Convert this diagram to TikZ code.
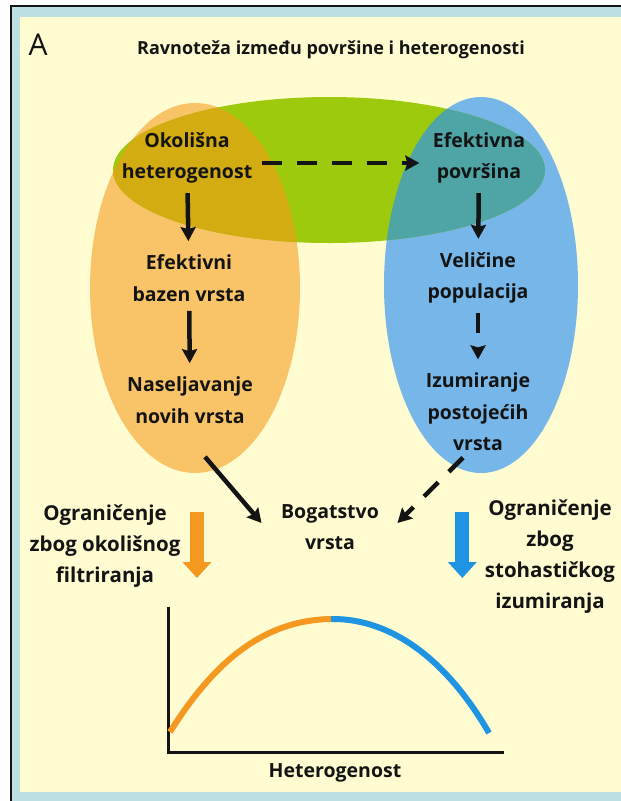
\documentclass[tikz,border=0pt]{standalone}
\usepackage{fontspec}
\setmainfont{Open Sans}
\usetikzlibrary{arrows.meta}
\definecolor{creme}{RGB}{254,252,208}
\definecolor{cadre}{RGB}{188,224,228}
\definecolor{orangeF}{RGB}{249,196,104}
\definecolor{vertF}{RGB}{157,202,13}
\definecolor{orF}{RGB}{211,172,18}
\definecolor{bleuF}{RGB}{118,182,232}
\definecolor{sarcF}{RGB}{79,164,166}
\definecolor{orangeC}{RGB}{244,152,32}
\definecolor{bleuC}{RGB}{30,148,226}
\definecolor{encre}{RGB}{20,20,20}

\begin{document}
\begin{tikzpicture}[x=1pt,y=-1pt,very thick,
    font=\bfseries\fontsize{19.5}{31.5}\selectfont,
    texte/.style={align=center,inner sep=4pt,text=encre},
    cote/.style={texte,font=\bfseries\fontsize{20.5}{31}\selectfont},
    fleche/.style={line width=4.5pt,encre,-{Stealth[length=14pt,width=15pt,inset=2pt]}},
    lien/.style={fleche,shorten <=5pt,shorten >=9pt},
    tiret/.style={dash pattern=on 20pt off 15pt},
    grosse/.style={line width=14pt,-{Triangle[length=16pt,width=28pt]}},
    courbe/.style={line width=6pt}]
  \useasboundingbox (0,0) rectangle (621,801);
  % fond et cadre
  \fill[white] (0,0) rectangle (621,801);
  \fill[cadre] (11,6) rectangle (621,801);
  \draw[line width=1.5pt,encre] (11,801) -- (11,6) -- (621,6);
  \fill[creme] (20,17) rectangle (621,792);
  % les trois ellipses
  \fill[orangeF] (195,288) ellipse (105 and 185);
  \fill[bleuF] (481,285) ellipse (97 and 188);
  \fill[vertF] (329,170) ellipse (216 and 73);
  \begin{scope}
    \clip (329,170) ellipse (216 and 73);
    \fill[orF] (195,288) ellipse (105 and 185);
    \fill[sarcF] (481,285) ellipse (97 and 188);
  \end{scope}
  \node[font=\mdseries\fontsize{30}{30}\selectfont,text=encre] (lettre) at (38,45) {A};
  \node[texte,font=\bfseries\fontsize{18}{31}\selectfont] (titre) at (331,50) {Ravnoteža između površine i heterogenosti};
  \node[texte] (okol) at (187,158) {Okolišna\\heterogenost};
  \node[texte] (povr) at (479,158) {Efektivna\\površina};
  \node[texte] (bazen) at (189,278) {Efektivni\\bazen vrsta};
  \node[texte] (popul) at (478,278) {Veličine\\populacija};
  \node[texte] (naselj) at (190,400) {Naseljavanje\\novih vrsta};
  \node[texte] (izum) at (478,412) {Izumiranje\\postojećih\\vrsta};
  \node[texte] (bogat) at (330,527) {Bogatstvo\\vrsta};
  \node[cote] (filtr) at (105,546) {Ograničenje\\zbog okolišnog\\filtriranja};
  \node[cote] (stoh) at (550,557) {Ograničenje\\zbog\\stohastičkog\\izumiranja};
  \node[texte] (hetero) at (335,773) {Heterogenost};
  % liens
  \draw[lien] (okol) -- (bazen);
  \draw[lien] (bazen) -- (naselj);
  \draw[lien] (povr) -- (popul);
  \draw[lien,tiret] (popul) -- (izum);
  \draw[lien,tiret] ([yshift=-5pt]okol.east) -- ([yshift=-5pt]povr.west);
  \draw[fleche] ([xshift=15pt,yshift=-29pt]naselj.south) -- ([xshift=-15pt,yshift=4pt]bogat.west);
  \draw[fleche,tiret] ([xshift=-15pt,yshift=-2pt]izum.south) -- ([xshift=14pt,yshift=4pt]bogat.east);
  \draw[grosse,orangeC] ([xshift=12pt,yshift=34pt]filtr.east) -- ([xshift=12pt,yshift=-32pt]filtr.east);
  \draw[grosse,bleuC] ([xshift=-18pt,yshift=45pt]stoh.west) -- ([xshift=-18pt,yshift=-21pt]stoh.west);
  % la courbe
  \coordinate (origine) at (168,752);
  \draw[line width=3pt,encre] (168,607) -- (origine) -- (504,752);
  \draw[courbe,orangeC] (170,732) .. controls (215,660) and (265,620) .. (331,619);
  \draw[courbe,bleuC] (331,619) .. controls (395,618) and (450,665) .. (489,733);
\end{tikzpicture}
\end{document}
